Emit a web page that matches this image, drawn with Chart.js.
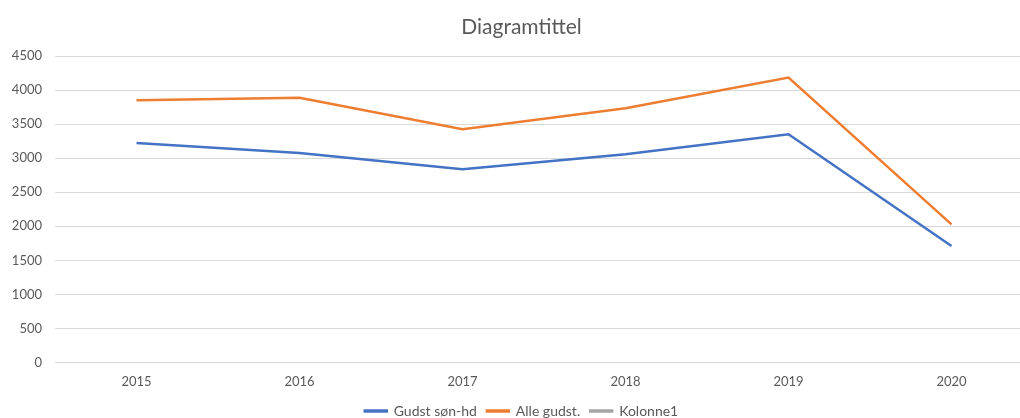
<!DOCTYPE html>
<html>
<head>
<meta charset="utf-8">
<script src="https://cdn.jsdelivr.net/npm/chart.js@4"></script>
<style>
  html, body { margin: 0; padding: 0; background: #fff; overflow: hidden; }
  #wrap { width: 1040px; height: 428px; }
</style>
</head>
<body>
<div id="wrap"><canvas id="chart"></canvas></div>
<script>
const years = ['2015', '2016', '2017', '2018', '2019', '2020'];
const gudstSonHd = [3225, 3078, 2838, 3060, 3353, 1710];
const alleGudst = [3853, 3890, 3426, 3735, 4186, 2029];
const kolonne1 = [null, null, null, null, null, null];
const yTicks = [0, 500, 1000, 1500, 2000, 2500, 3000, 3500, 4000, 4500];

const textColor = '#595959';
const font = 'Lato, "Open Sans", sans-serif';

function line(label, data, color) {
  return {
    label: label,
    data: data,
    borderColor: color,
    backgroundColor: color,
    borderWidth: 2.5,
    pointRadius: 0,
    tension: 0
  };
}

new Chart(document.getElementById('chart'), {
  type: 'line',
  data: {
    labels: years,
    datasets: [
      line('Gudst søn-hd', gudstSonHd, '#4472C4'),
      line('Alle gudst.', alleGudst, '#ED7D31'),
      line('Kolonne1', kolonne1, '#A5A5A5')
    ]
  },
  options: {
    responsive: true,
    maintainAspectRatio: false,
    animation: false,
    layout: { padding: { left: 10, right: 7, top: 4, bottom: 0 } },
    plugins: {
      title: {
        display: true,
        text: 'Diagramtittel',
        color: textColor,
        font: { family: font, size: 21, weight: 'normal' },
        padding: { top: 11, bottom: 16 }
      },
      legend: {
        position: 'bottom',
        labels: {
          color: textColor,
          font: { family: font, size: 14 },
          boxWidth: 22,
          boxHeight: 1,
          padding: 10
        }
      },
      tooltip: { enabled: false }
    },
    scales: {
      x: {
        offset: true,
        grid: { display: false },
        border: { display: false },
        ticks: { color: textColor, font: { family: font, size: 13 }, padding: 4 }
      },
      y: {
        min: 0,
        max: 4500,
        afterBuildTicks: axis => { axis.ticks = yTicks.map(v => ({ value: v })); },
        afterFit: axis => { axis.width = 45; },
        grid: { color: '#d9d9d9', drawTicks: false },
        border: { display: false },
        ticks: {
          color: textColor,
          font: { family: font, size: 13 },
          padding: 13,
          callback: v => String(v)
        }
      }
    }
  }
});
</script>
</body>
</html>
